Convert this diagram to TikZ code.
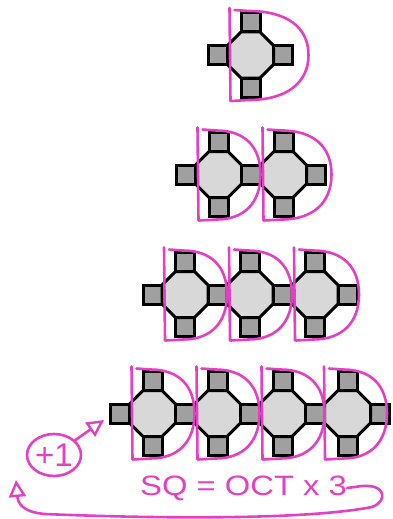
\documentclass[tikz,border=0pt]{standalone}
\usepackage{fontspec}
\setmainfont{Liberation Sans}
\usetikzlibrary{arrows.meta,shapes.geometric}
\definecolor{pen}{RGB}{228,64,196}
\definecolor{octfill}{RGB}{216,216,216}
\definecolor{sqfill}{RGB}{160,160,160}
\tikzset{
  sqbox/.style={fill=sqfill,draw=black,line width=3pt},
  octbox/.style={fill=octfill,draw=black,line width=3pt,line join=miter},
  penline/.style={draw=pen,line width=2.6pt,line cap=round,line join=round},
  pentip/.style={-{Triangle[open,length=17pt,width=17pt,line width=2.4pt]}},
}
\newcommand\tile[2]{%
  \draw[sqbox] (#1-42,#2-9.5) rectangle (#1-23,#2+9.5);
  \draw[sqbox] (#1+23,#2-9.5) rectangle (#1+42,#2+9.5);
  \draw[sqbox] (#1-9.5,#2-42) rectangle (#1+9.5,#2-23);
  \draw[sqbox] (#1-9.5,#2+23) rectangle (#1+9.5,#2+42);
  \draw[octbox] (#1-9.5,#2-23) -- (#1+9.5,#2-23) -- (#1+23,#2-9.5) -- (#1+23,#2+9.5)
     -- (#1+9.5,#2+23) -- (#1-9.5,#2+23) -- (#1-23,#2+9.5) -- (#1-23,#2-9.5) -- cycle;
}
\newcommand\dee[3]{%
  \draw[penline] (#1-21,#2-47) -- (#1-20,#2+46);
  \draw[penline] (#1-19,#2+46) -- (#1-2,#2+45)
     .. controls (#1+0.62*#3,#2+45) and (#1+#3,#2+28) .. (#1+#3,#2)
     .. controls (#1+#3,#2-28) and (#1+0.62*#3,#2-44) .. (#1-2,#2-44) -- (#1-16,#2-45);
}
\begin{document}
\begin{tikzpicture}[x=1pt,y=-1pt]
\fill[white] (0,0) rectangle (393,519);
\useasboundingbox (0,0) rectangle (393,519);
% row 1
\tile{250.5}{55}
% row 2
\tile{218.5}{174.5}\tile{283.5}{174.5}
% row 3
\tile{185}{294.5}\tile{250}{294.5}\tile{315}{294.5}
% row 4
\tile{152.5}{413.5}\tile{217.5}{413.5}\tile{282.5}{413.5}\tile{347.5}{413.5}
% D shapes
\dee{250.5}{55}{58}
\dee{218.5}{174.5}{42}\dee{283.5}{174.5}{48}
\dee{185}{294.5}{42}\dee{250}{294.5}{42}\dee{315}{294.5}{44}
\dee{152.5}{413.5}{42}\dee{217.5}{413.5}{42}\dee{282.5}{413.5}{42}\dee{345}{413.5}{42}
% +1 and arrow
\node[ellipse,draw=pen,line width=2.6pt,minimum width=54pt,minimum height=42pt,
      text=pen,font=\fontsize{33}{33}\selectfont,inner sep=0pt] (plus) at (54,455) {+1};
\coordinate (tip) at (104,420);
\draw[penline,pentip] (plus.35) -- (tip);
% formula and return arrow
\node[text=pen,font=\fontsize{28}{28}\selectfont,inner sep=0pt,anchor=west,xscale=1.17] (sq) at (140,488) {SQ = OCT x 3};
\coordinate (tailend) at (16,480);
\draw[penline,pentip] (sq.east) -- (362,486)
   .. controls (386,484) and (388,501) .. (372,507)
   .. controls (300,521) and (140,518) .. (45,514)
   .. controls (22,512) and (18,503) .. (tailend);
\end{tikzpicture}
\end{document}
